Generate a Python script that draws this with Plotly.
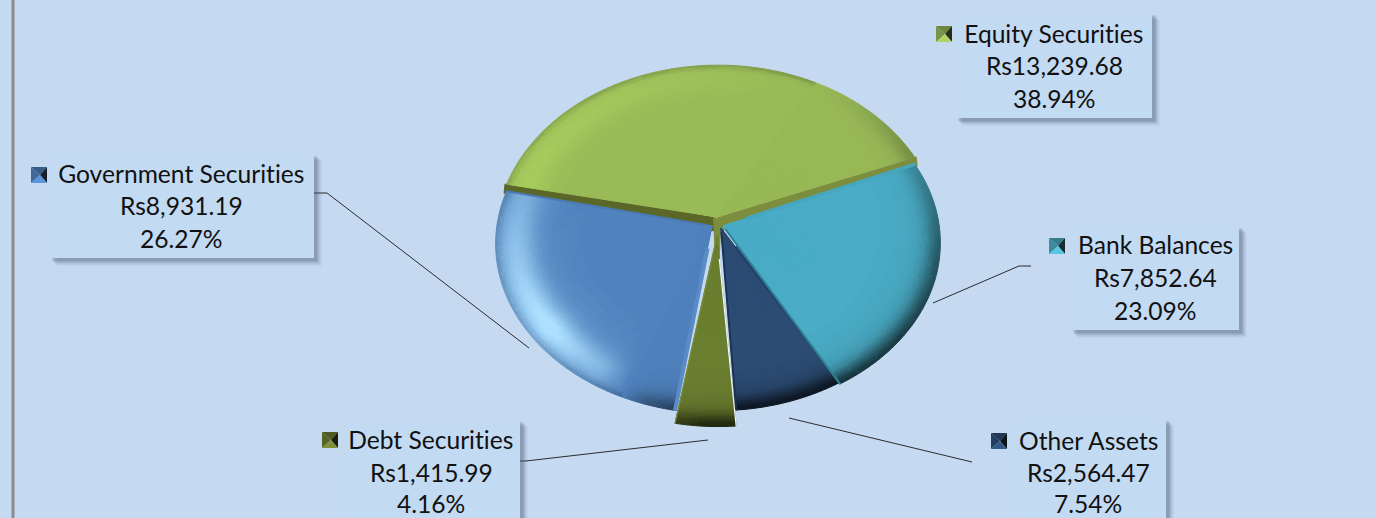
import numpy as np
import plotly.graph_objects as go

categories = ["Equity Securities", "Bank Balances", "Other Assets", "Debt Securities", "Government Securities"]
values = [13239.68, 7852.64, 2564.47, 1415.99, 8931.19]
percent_labels = ["38.94%", "23.09%", "7.54%", "4.16%", "26.27%"]

W, H = 1376, 518
BG = "#c5d9f1"
FONT = "Lato"
FS = 24.6

base = {"Equity Securities": "#99b957", "Bank Balances": "#4aacc6", "Other Assets": "#2c4d75",
        "Debt Securities": "#6b7e30", "Government Securities": "#4f81bd"}
highlight = {"Equity Securities": (182, 224, 98), "Bank Balances": (120, 205, 225), "Other Assets": (80, 120, 170),
             "Debt Securities": (140, 165, 70), "Government Securities": (172, 224, 255)}
# apex of each slice and displacement / height of its rim ellipse
apex = {"Equity Securities": (717, 217), "Bank Balances": (723, 226), "Other Assets": (721, 228),
        "Debt Securities": (717, 236), "Government Securities": (712, 226)}
offset = {"Equity Securities": (0, 0), "Bank Balances": (0, 5), "Other Assets": (0, 0),
          "Debt Securities": (0, 16), "Government Securities": (0, 6)}
ery = {"Equity Securities": 174, "Bank Balances": 170, "Other Assets": 174,
       "Debt Securities": 174, "Government Securities": 171}
START = -73.0
ECX, ECY, ERX = 718.0, 238.0, 224.0
ang_t = [0, 40, 70, 100, 130, 150, 165, 185, 200, 215, 235, 260, 285, 300, 330, 360]
ang_s = [.15, -.05, -.3, -.6, -.8, -.85, -.85, -.85, -.4, .5, 1, .7, .45, .4, .3, .15]


def hex2rgb(h):
    return np.array([int(h[i:i + 2], 16) for i in (1, 3, 5)], float)


def rgb2hex(c):
    c = np.clip(np.round(c / 2) * 2, 0, 255).astype(int)
    return "#%02x%02x%02x" % tuple(c)


def project(theta, r, n):
    phi = np.radians(theta - 2 - 3.2 * np.sin(np.radians(theta)))
    ox, oy = offset[n]
    ax, ay = apex[n]
    ex, ey = ECX + ox + ERX * np.sin(phi), ECY + oy - ery[n] * np.cos(phi)
    return ax + r * (ex - ax), ay + r * (ey - ay)


def shade(n, theta, r):
    d = 1 - r
    s = np.interp(theta % 360, ang_t, ang_s)
    c = hex2rgb(base[n])
    white, black = np.array(highlight[n], float), np.zeros(3)
    if s > 0:
        p = np.exp(-((d - .1) / .09) ** 2) * s * .88 + np.exp(-((d - .1) / .22) ** 2) * s * .2
        c = c + (white - c) * min(p, 1)
        c = c * (1 - .2 * np.exp(-(d / .025) ** 2) * (1 - s * .6))
    else:
        p = np.exp(-(d / .07) ** 2) * (-s) * .72 + np.exp(-(d / .18) ** 2) * (-s) * .12
        c = c + (black - c) * min(p, 1)
    return c


radii = np.r_[0, .5, .6, .66, .7, np.arange(.73, 1.0001, .0125)]
order_draw = ["Equity Securities", "Debt Securities", "Other Assets", "Government Securities", "Bank Balances"]
spans = {}
a = START
total = sum(values)
for n, val in zip(categories, values):
    b = a + 360 * val / total
    spans[n] = (a, b)
    a = b

fig = go.Figure()


def add_poly(xs, ys, col):
    fig.add_trace(go.Scatter(x=xs, y=ys, mode="lines", fill="toself", fillcolor=col,
                             line=dict(color=col, width=1), hoverinfo="skip", showlegend=False))


def polyline(pts, color, width):
    fig.add_trace(go.Scatter(x=[p[0] for p in pts], y=[p[1] for p in pts], mode="lines",
                             line=dict(color=color, width=width), hoverinfo="skip", showlegend=False))


# thick side of the equity slice
a0, b0 = spans["Equity Securities"]
ax0, ay0 = apex["Equity Securities"]
px0, py0 = project(a0, 1, "Equity Securities")
px1, py1 = project(b0, 1, "Equity Securities")
add_poly([ax0, px0, px0 - 1, ax0 - 2], [ay0, py0, py0 + 9, ay0 + 14], "#5a6729")
add_poly([ax0, px1, px1 + 1, ax0 + 2], [ay0, py1, py1 + 9, ay0 + 14], "#7d8d3e")
add_poly([ax0 - 4, ax0 + 4, ax0 + 2, ax0 - 2], [ay0, ay0, ay0 + 45, ay0 + 45], "#7d8d3e")

for n in order_draw:
    a, b = spans[n]
    nt = max(6, int((b - a) / 1.25))
    ths = np.linspace(a, b, nt + 1)
    groups = {}
    for i in range(nt):
        for j in range(len(radii) - 1):
            t0, t1 = ths[i], ths[i + 1]
            r0, r1 = radii[j], radii[j + 1]
            col = rgb2hex(shade(n, (t0 + t1) / 2, (r0 + r1) / 2))
            p = [project(t0, r0, n), project(t1, r0, n), project(t1, r1, n), project(t0, r1, n), project(t0, r0, n)]
            xs, ys = groups.setdefault(col, ([], []))
            xs += [q[0] for q in p] + [None]
            ys += [q[1] for q in p] + [None]
    for col, (xs, ys) in groups.items():
        add_poly(xs, ys, col)
    # bevel along the straight cut edges: (clockwise start edge, clockwise end edge)
    edge = {"Government Securities": ("#5b8cc6", "#4a7ab4"), "Bank Balances": ("#47a6bf", "#2f8296"),
            "Other Assets": ("#234066", "#1b3354"), "Debt Securities": ("#f4f7fb", "#7a8d3c")}.get(n)
    if edge:
        wid = {"Debt Securities": 1.2, "Government Securities": 4, "Bank Balances": 3.5}.get(n, 3)
        polyline([project(a, .12, n), project(a, .995, n)], edge[0], wid)
        polyline([project(b, .02, n), project(b, .995, n)], edge[1], 1.2 if n == "Debt Securities" else 2)

# ---- callouts ----
boxes = {"Equity Securities": (956, 13, 1152, 118), "Bank Balances": (1071, 226, 1239, 330),
         "Other Assets": (1012, 419, 1166, 530), "Debt Securities": (341, 420, 520, 530),
         "Government Securities": (50, 154, 314, 258)}
text_pos = {"Equity Securities": (1054, 33, 65, 98), "Bank Balances": (1155, 244, 277, 310),
            "Other Assets": (1088, 440, 472, 503.5), "Debt Securities": (431, 439, 472, 503.5),
            "Government Securities": (181, 173, 205, 238)}
icons = {"Equity Securities": (936, 26), "Bank Balances": (1049, 238), "Other Assets": (991, 433),
         "Debt Securities": (322, 432), "Government Securities": (31, 167)}
leaders = [[(314, 193), (327, 193), (529, 348)], [(933, 303), (1019, 266), (1031, 266)],
           [(789, 418), (972, 462)], [(708, 440), (526, 461), (520, 461)]]

shapes = []
shapes.append(dict(type="line", x0=13, x1=13, y0=0, y1=H, line=dict(color="#8c8c8c", width=3)))
for pts in leaders:
    path = "M" + " L".join(f"{x},{y}" for x, y in pts)
    shapes.append(dict(type="path", path=path, line=dict(color="#2b2b2b", width=1), layer="above"))
for n, (x0, y0, x1, y1) in boxes.items():
    for k, op in [(8, .04), (7, .06), (6, .08), (5, .11), (4, .13), (3, .15)]:
        shapes.append(dict(type="rect", x0=x0 + k - 1, y0=y0 + k - 1, x1=x1 + k, y1=y1 + k, fillcolor="#46566e",
                           opacity=op, line=dict(width=0), layer="above"))
    shapes.append(dict(type="rect", x0=x0, y0=y0, x1=x1, y1=y1, fillcolor="#c3daf3", line=dict(width=0), layer="above"))
for n, (ix, iy) in icons.items():
    c = hex2rgb(base[n])
    s = 16
    cx, cy = ix + s / 2 + 1, iy + s / 2
    tris = [([(ix, iy), (ix + s, iy), (cx, cy)], c * .72), ([(ix, iy), (ix, iy + s), (cx, cy)], c * .8),
            ([(ix + s, iy), (ix + s, iy + s), (cx, cy)], c * .25),
            ([(ix, iy + s), (ix + s, iy + s), (cx, cy)], c * 1.15)]
    for pts, col in tris:
        path = "M" + " L".join(f"{x},{y}" for x, y in pts) + " Z"
        shapes.append(dict(type="path", path=path, fillcolor=rgb2hex(col), line=dict(width=0), layer="above"))

annotations = []
for n, val, pct in zip(categories, values, percent_labels):
    tx, y1, y2, y3 = text_pos[n]
    for txt, y in ((n, y1), (f"Rs{val:,.2f}", y2), (pct, y3)):
        annotations.append(dict(x=tx, y=y, text=txt, showarrow=False, xanchor="center", yanchor="middle",
                                font=dict(family=FONT, size=FS, color="#111111")))

fig.update_layout(width=W, height=H, margin=dict(l=0, r=0, t=0, b=0), paper_bgcolor=BG, plot_bgcolor=BG,
                  showlegend=False, shapes=shapes, annotations=annotations,
                  xaxis=dict(range=[0, W], visible=False, fixedrange=True),
                  yaxis=dict(range=[H, 0], visible=False, fixedrange=True))
post = """
document.body.style.margin='0';
document.documentElement.style.overflow='hidden';
var st=document.createElement('style');
st.textContent='svg text{font-variant-ligatures:none !important;}';
document.head.appendChild(st);
"""
fig.write_html("out.html", config=dict(displayModeBar=False), post_script=post)
